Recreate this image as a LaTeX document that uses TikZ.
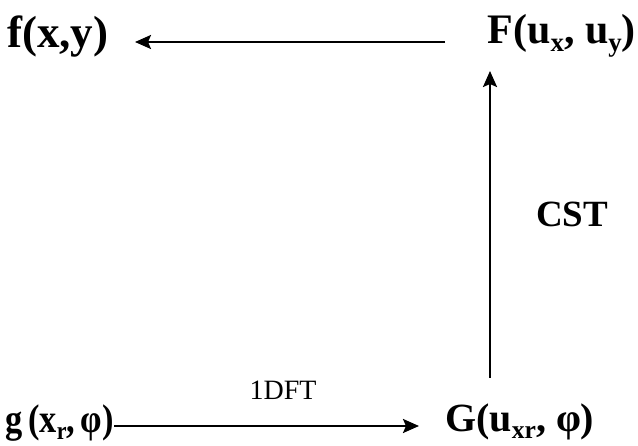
\documentclass[tikz,border=0pt]{standalone}
\usepackage{fontspec}
\setmainfont{Liberation Serif}
\usetikzlibrary{arrows.meta}
\newcommand{\sbs}[1]{\raisebox{-0.17em}{\fontsize{0.64em}{0.7em}\selectfont #1}}
\tikzset{
  lbl/.style={inner sep=0pt, font=\fontsize{42}{44}\selectfont\bfseries},
  small/.style={inner sep=0pt, font=\fontsize{28}{30}\selectfont},
  arr/.style={line width=2.4pt, -{Stealth[length=16pt,width=14pt,inset=3pt]}}
}
\begin{document}
\begin{tikzpicture}[x=1pt,y=-1pt]
\useasboundingbox (0,0) rectangle (638,446);
\node[lbl, font=\fontsize{45}{47}\selectfont\bfseries, anchor=base west] (f) at (7,48) {f(x,y)};
\node[lbl, anchor=base east] (F) at (636,44) {F(u\sbs{x}, u\sbs{y})};
\node[lbl, font=\fontsize{40}{42}\selectfont\bfseries, anchor=base west] (g) at (5,433) {\scalebox{0.86}[1]{g\,(x\sbs{r},\,φ)}};
\node[lbl, font=\fontsize{40}{42}\selectfont\bfseries, anchor=base west] (G) at (445,432) {G(u\sbs{xr}, φ)};
\node[lbl, font=\fontsize{37}{39}\selectfont\bfseries, anchor=base west] (cst) at (536,227) {CST};
\node[small, anchor=base] (dft) at (283,400) {1DFT};
\coordinate (vb) at (490,378);
\coordinate (vt) at (490,71);
\coordinate (tl) at (135,42);
\coordinate (tr) at (445,42);
\coordinate (br) at (419,426);
\draw[arr] (tr) -- (tl);
\draw[arr] (vb) -- (vt);
\draw[arr] (g.east |- br) -- (br);
\end{tikzpicture}
\end{document}
